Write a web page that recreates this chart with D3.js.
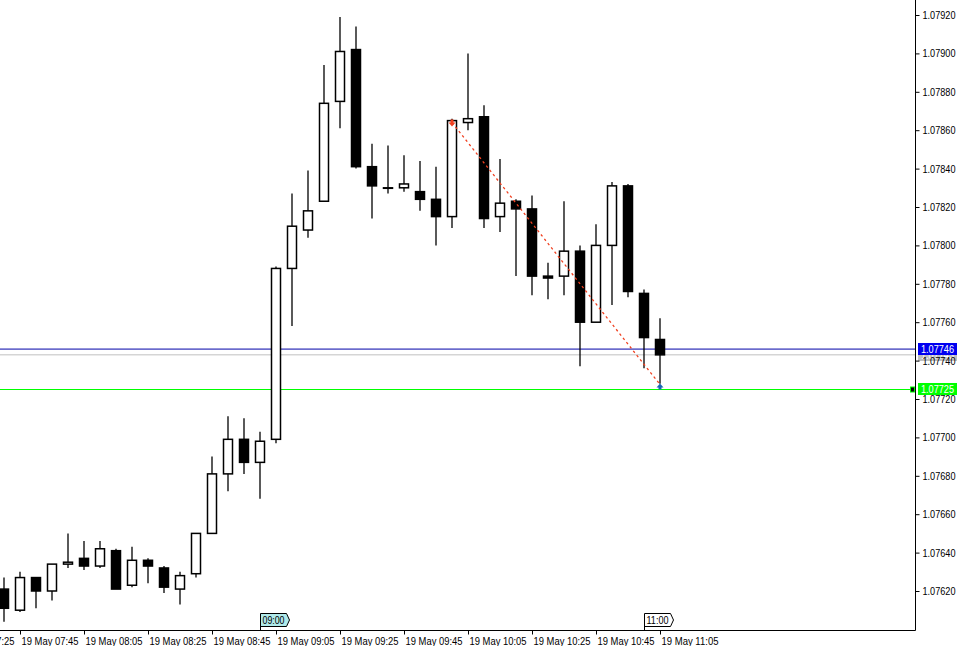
<!DOCTYPE html>
<html>
<head>
<meta charset="utf-8">
<script src="https://cdn.jsdelivr.net/npm/d3@7"></script>
<style>
  body { margin: 0; background: #fff; }
  svg { display: block; }
  text { font-family: "Liberation Sans", Arial, sans-serif; font-size: 11px; fill: #000; }
</style>
</head>
<body>
<svg id="chart" width="964" height="646"></svg>
<script>
// 5 minute candles, EURUSD style quotes
const times = ["07:40","07:45","07:50","07:55","08:00","08:05","08:10","08:15","08:20","08:25",
  "08:30","08:35","08:40","08:45","08:50","08:55","09:00","09:05","09:10","09:15",
  "09:20","09:25","09:30","09:35","09:40","09:45","09:50","09:55","10:00","10:05",
  "10:10","10:15","10:20","10:25","10:30","10:35","10:40","10:45","10:50","10:55",
  "11:00","11:05"];
const opens = [1.07621,1.07610,1.07627,1.07620,1.07634,1.07637,1.07633,1.07641,1.07623,1.07636,
  1.07632,1.07621,1.07629,1.07650,1.07681,1.07699,1.07687,1.07699,1.07788,1.07808,
  1.07823,1.07875,1.07902,1.07841,1.07830,1.07830,1.07828,1.07824,1.07815,1.07864,
  1.07867,1.07815,1.07823,1.07819,1.07784,1.07784,1.07797,1.07760,1.07800,1.07831,
  1.07775,1.07751];
const highs = [1.07627,1.07630,1.07627,1.07634,1.07650,1.07646,1.07646,1.07642,1.07643,1.07637,
  1.07633,1.07630,1.07650,1.07690,1.07711,1.07710,1.07703,1.07789,1.07827,1.07839,
  1.07894,1.07919,1.07914,1.07853,1.07852,1.07847,1.07844,1.07841,1.07866,1.07900,
  1.07873,1.07845,1.07824,1.07826,1.07791,1.07823,1.07800,1.07811,1.07833,1.07832,
  1.07777,1.07762];
const lows = [1.07604,1.07609,1.07611,1.07615,1.07632,1.07631,1.07632,1.07621,1.07622,1.07624,
  1.07619,1.07613,1.07627,1.07650,1.07672,1.07681,1.07668,1.07697,1.07758,1.07804,
  1.07823,1.07861,1.07840,1.07814,1.07827,1.07828,1.07818,1.07800,1.07809,1.07860,
  1.07809,1.07807,1.07784,1.07774,1.07772,1.07774,1.07737,1.07760,1.07769,1.07773,
  1.07736,1.07728];
const closes = [1.07611,1.07627,1.07620,1.07634,1.07635,1.07633,1.07642,1.07621,1.07636,1.07633,
  1.07622,1.07628,1.07650,1.07681,1.07699,1.07687,1.07698,1.07788,1.07810,1.07818,
  1.07874,1.07901,1.07841,1.07831,1.07830,1.07832,1.07824,1.07815,1.07865,1.07866,
  1.07814,1.07822,1.07819,1.07784,1.07783,1.07797,1.07760,1.07800,1.07831,1.07776,
  1.07752,1.07743];

const priceTicks = [1.07620,1.07640,1.07660,1.07680,1.07700,1.07720,1.07740,1.07760,
  1.07780,1.07800,1.07820,1.07840,1.07860,1.07880,1.07900,1.07920];
const timeTicks = ["07:25","07:45","08:05","08:25","08:45","09:05","09:25","09:45","10:05","10:25","10:45","11:05"];

const bidPrice = 1.07743;
const askPrice = 1.07746;
const levelPrice = 1.07725;
const tradeTimes = ["10:00","11:05"];
const tradePrices = [1.07864,1.07726];
const markerTimes = ["09:00","11:00"];
const markerFills = ["#b0eaea","#ffffff"];

const parse = d3.timeParse("%H:%M");
const fmt = d3.timeFormat("%H:%M");
const candles = times.map((t, i) => ({t: parse(t), o: opens[i], h: highs[i], l: lows[i], c: closes[i]}));

const plotRight = 915, plotBottom = 630;
const svg = d3.select("#chart");

const x = d3.scaleTime()
    .domain([parse("07:40"), parse("11:05")])
    .range([4, 660]);
const y = d3.scaleLinear()
    .domain([1.07620, 1.07920])
    .range([591, 15]);

svg.append("defs").append("clipPath").attr("id", "plot")
  .append("rect").attr("x", 0).attr("y", 0).attr("width", plotRight).attr("height", plotBottom);

const plot = svg.append("g").attr("clip-path", "url(#plot)");

// horizontal price lines
plot.append("line").attr("x1", 0).attr("x2", plotRight)
    .attr("y1", y(bidPrice)).attr("y2", y(bidPrice))
    .attr("stroke", "#c0c0c0").attr("stroke-width", 1);
plot.append("line").attr("x1", 0).attr("x2", plotRight)
    .attr("y1", y(askPrice)).attr("y2", y(askPrice))
    .attr("stroke", "#0000a8").attr("stroke-width", 1);
plot.append("line").attr("x1", 0).attr("x2", plotRight)
    .attr("y1", Math.round(y(levelPrice)) + 0.5).attr("y2", Math.round(y(levelPrice)) + 0.5)
    .attr("stroke", "#00ff00").attr("stroke-width", 1.2);

// candles
const cg = plot.selectAll(".candle").data(candles).enter().append("g").attr("class", "candle");
cg.append("line")
    .attr("x1", d => x(d.t)).attr("x2", d => x(d.t))
    .attr("y1", d => y(d.h)).attr("y2", d => y(d.l))
    .attr("stroke", "#000").attr("stroke-width", 1.3);
cg.append("rect")
    .attr("x", d => x(d.t) - 4.5)
    .attr("width", 9)
    .attr("y", d => y(Math.max(d.o, d.c)))
    .attr("height", d => Math.max(0.5, Math.abs(y(d.o) - y(d.c))))
    .attr("fill", d => d.c >= d.o ? "#fff" : "#000")
    .attr("stroke", "#000").attr("stroke-width", 1.5);

// trade line and arrows
const tradePts = tradeTimes.map((t, i) => [x(parse(t)), y(tradePrices[i])]);
plot.append("line")
    .attr("x1", tradePts[0][0]).attr("y1", tradePts[0][1])
    .attr("x2", tradePts[1][0]).attr("y2", tradePts[1][1] - 3)
    .attr("stroke", "#f04020").attr("stroke-width", 1.3)
    .attr("stroke-dasharray", "2.5,3");
const [ax, ay] = tradePts[0];
plot.append("path")
    .attr("d", `M${ax-1.5},${ay-3}H${ax+1.5}V${ay}H${ax+3.5}L${ax},${ay+4}L${ax-3.5},${ay}H${ax-1.5}Z`)
    .attr("fill", "#f04020");
const [bx, by] = tradePts[1];
plot.append("path")
    .attr("d", `M${bx},${by-4}L${bx+3.5},${by}H${bx+1.5}V${by+2}H${bx-1.5}V${by}H${bx-3.5}Z`)
    .attr("fill", "#1a64b4");

// frame
svg.append("line").attr("x1", plotRight + 0.5).attr("x2", plotRight + 0.5)
    .attr("y1", 0).attr("y2", plotBottom + 0.5).attr("stroke", "#000");
svg.append("line").attr("x1", 0).attr("x2", plotRight + 0.5)
    .attr("y1", plotBottom + 0.5).attr("y2", plotBottom + 0.5).attr("stroke", "#000");

// narrow the terminal-style font to its measured width
function squeeze(sel, w) {
  sel.attr("textLength", w).attr("lengthAdjust", "spacingAndGlyphs");
}

function priceLabel(p, fill, textFill) {
  const g = svg.append("g").attr("transform", `translate(${plotRight + 3},${Math.round(y(p))})`);
  g.append("rect").attr("x", 0).attr("y", -6).attr("width", 39).attr("height", 12).attr("fill", fill);
  g.append("text").attr("x", 3).attr("dy", "0.36em").style("fill", textFill).text(p.toFixed(5))
    .call(squeeze, 33);
}
// bid label sits under the axis text
priceLabel(bidPrice, "#c0c0c0", "#fff");

// right price axis
const yAxis = svg.append("g")
    .attr("transform", `translate(${plotRight + 0.5},0)`)
    .call(d3.axisRight(y).tickValues(priceTicks).tickSize(4).tickPadding(3).tickFormat(d3.format(".5f")));
yAxis.select(".domain").remove();
yAxis.selectAll("text").attr("font-family", null).attr("font-size", null).call(squeeze, 33);

priceLabel(askPrice, "#0000f0", "#fff");
priceLabel(levelPrice, "#00ff00", "#fff");
svg.append("rect").attr("x", 910.5).attr("y", Math.round(y(levelPrice)) - 2).attr("width", 4).attr("height", 5)
    .attr("fill", "#000").attr("stroke", "#00ff00").attr("stroke-width", 1);

// bottom time axis
const xAxis = svg.append("g")
    .attr("transform", `translate(0,${plotBottom + 0.5})`)
    .call(d3.axisBottom(x).tickValues(timeTicks.map(parse)).tickSize(4).tickPadding(3)
      .tickFormat(d => "19 May " + fmt(d)));
xAxis.select(".domain").remove();
xAxis.selectAll("text").attr("font-family", null).attr("font-size", null)
    .attr("text-anchor", "start").attr("x", 1).call(squeeze, 57);

// vertical line markers at the bottom
markerTimes.forEach((t, i) => {
  const mx = Math.round(x(parse(t))) + 0.5;
  const g = svg.append("g");
  g.append("path")
    .attr("d", `M${mx},${plotBottom}V613.5H${mx+26}L${mx+29},620L${mx+26},626.5H${mx}`)
    .attr("fill", markerFills[i]).attr("stroke", "#000").attr("stroke-width", 1);
  g.append("text").attr("x", mx + 2).attr("y", 624).text(t).call(squeeze, 22);
});
</script>
</body>
</html>
